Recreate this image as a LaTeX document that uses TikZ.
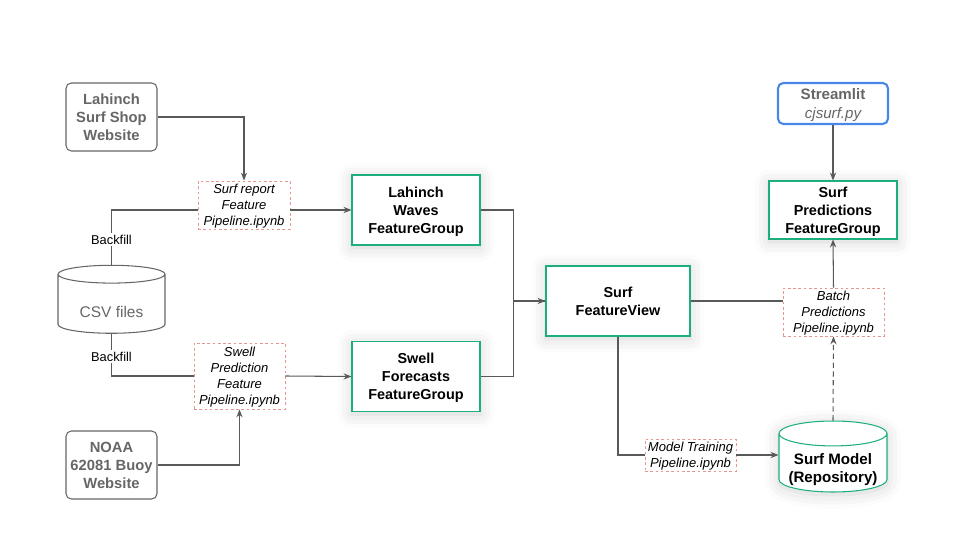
\documentclass[tikz,border=0pt]{standalone}
\usepackage{fontspec}
\setmainfont{Liberation Sans}
\usetikzlibrary{arrows.meta,positioning,shapes.geometric,shadows.blur}

\definecolor{fsgreen}{HTML}{1DAE7E}
\definecolor{stblue}{HTML}{4A86E8}
\definecolor{pipered}{HTML}{E8958D}
\definecolor{linegray}{HTML}{595959}
\definecolor{srcgray}{HTML}{666666}

\begin{document}
\begin{tikzpicture}[
    x=0.02cm, y=-0.02cm,
    softshadow/.style={blur shadow={shadow xshift=0pt, shadow yshift=-1.5pt, shadow blur radius=8pt, shadow opacity=18}},
    source/.style={rectangle, rounded corners=3pt, draw=srcgray, line width=0.6pt, text=srcgray, font=\fontsize{8.4}{10.2}\selectfont\bfseries, align=center, text depth=0pt, minimum width=1.82cm, minimum height=1.36cm, inner sep=0pt},
    fgroup/.style={rectangle, draw=fsgreen, line width=0.6pt, fill=white, font=\fontsize{8.2}{10.2}\selectfont\bfseries, align=center, text depth=0pt, minimum width=2.56cm, minimum height=1.4cm, inner sep=0pt, softshadow},
    pipe/.style={rectangle, draw=pipered, dash pattern=on 1.5pt off 1.5pt, line width=0.5pt, fill=white, font=\fontsize{7.4}{9.1}\selectfont\itshape, align=center, text depth=0pt, inner sep=0pt},
    store/.style={cylinder, shape border rotate=90, aspect=0.28, line width=0.6pt, inner sep=0pt},
    flow/.style={draw=linegray, line width=0.6pt},
    arr/.style={flow, -{Stealth[length=4.5pt, width=3.5pt]}},
    tag/.style={fill=white, font=\fontsize{7.3}{9}\selectfont, inner sep=1pt},
]
    \useasboundingbox (0,0) rectangle (960,540);

    % data sources
    \node[source] (shop) at (111.5,117) {Lahinch\\Surf Shop\\Website};
    \node[source] (noaa) at (111.5,465) {NOAA\\62081 Buoy\\Website};
    \node[store, draw=srcgray, text=srcgray, font=\fontsize{8.8}{10}\selectfont, minimum width=2.14cm, minimum height=1.36cm] (csv) at (111.5,304) {\raisebox{-7.7pt}[2pt][2pt]{CSV files}};

    % feature pipelines and groups
    \node[pipe, minimum width=1.84cm, minimum height=0.96cm] (surfpipe) at (244,205) {Surf report\\Feature\\Pipeline.ipynb};
    \node[pipe, minimum width=1.82cm, minimum height=1.32cm] (swellpipe) at (239.5,376) {Swell\\Prediction\\Feature\\Pipeline.ipynb};
    \node[fgroup] (waves) at (416,210) {Lahinch\\Waves\\FeatureGroup};
    \node[fgroup] (swell) at (416,376.5) {Swell\\Forecasts\\FeatureGroup};
    \node[fgroup, minimum width=2.88cm] (fview) at (618,301) {Surf\\FeatureView};

    % training and inference
    \node[pipe, minimum width=1.82cm, minimum height=0.64cm] (trainpipe) at (690.5,455) {Model Training\\Pipeline.ipynb};
    \node[store, draw=fsgreen, fill=white, font=\fontsize{8.6}{10.4}\selectfont\bfseries, minimum width=2.16cm, minimum height=1.42cm, softshadow] (model) at (833,463)
        {\raisebox{-6.1pt}[2pt][2pt]{\begin{tabular}{@{}c@{}}Surf Model\\(Repository)\end{tabular}}};
    \node[pipe, minimum width=2.02cm, minimum height=0.96cm] (batchpipe) at (833.5,312) {Batch\\Predictions\\Pipeline.ipynb};
    \node[fgroup, minimum height=1.16cm] (preds) at (833,210) {Surf\\Predictions\\FeatureGroup};
    \node[rectangle, rounded corners=3pt, draw=stblue, line width=1.2pt, text=srcgray, font=\fontsize{8.6}{11}\selectfont\bfseries, align=center, text depth=-2pt, minimum width=2.2cm, minimum height=0.82cm, inner sep=0pt] (app) at (833,103.5) {Streamlit\\{\mdseries\itshape cjsurf.py}};

    \draw[arr] (shop.east) -| (surfpipe.north);
    \draw[flow] (surfpipe.west |- waves.west) -| node[tag, pos=0.77] {Backfill} (csv.north);
    \draw[arr] (surfpipe.east |- waves.west) -- (waves.west);
    \draw[flow] (csv.south) |- node[tag, pos=0.27] {Backfill} (swellpipe.west);
    \draw[arr] (noaa.east) -| (swellpipe.south);
    \draw[arr] (swellpipe.east) -- (swell.west);
    \draw[arr] (waves.east) -- ++(33,0) |- (fview.west);
    \draw[flow] (swell.east) -- ++(33,0) |- (fview.west);
    \draw[flow] (fview.east) -- (fview.east -| batchpipe.west);
    \draw[arr] (batchpipe.north) -- (preds.south);
    \draw[arr] (app.south) -- (preds.north);
    \draw[arr, dash pattern=on 3pt off 2pt] (model.north) -- (batchpipe.south);
    \draw[flow] (fview.south) |- (trainpipe.west);
    \draw[arr] (trainpipe.east) -- (trainpipe.east -| model.west);
\end{tikzpicture}
\end{document}
